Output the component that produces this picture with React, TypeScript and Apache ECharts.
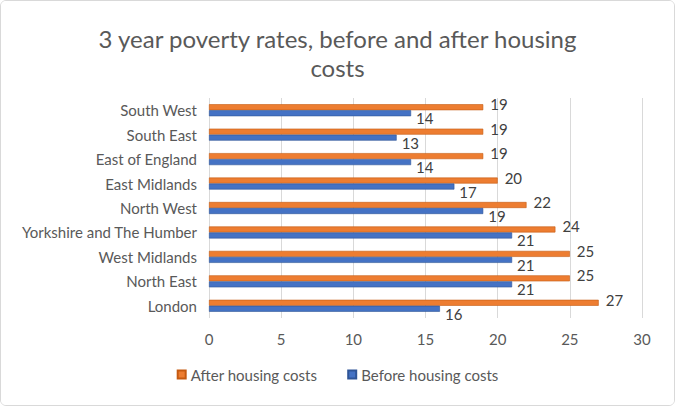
import React, { useEffect, useRef } from "react";
import * as echarts from "echarts";

const categories = [
  "London",
  "North East",
  "West Midlands",
  "Yorkshire and The Humber",
  "North West",
  "East Midlands",
  "East of England",
  "South East",
  "South West",
];
const afterHousing = [27, 25, 25, 24, 22, 20, 19, 19, 19];
const beforeHousing = [16, 21, 21, 21, 19, 17, 14, 13, 14];
const xTicks = { min: 0, max: 30, interval: 5 };

const FONT = "Lato, 'Open Sans', sans-serif";

export default function App() {
  const ref = useRef<HTMLDivElement>(null);
  useEffect(() => {
    if (!ref.current) return;
    const chart = echarts.init(ref.current, undefined, { renderer: "svg" });
    chart.setOption({
      animation: false,
      backgroundColor: "#ffffff",
      title: {
        text: "3 year poverty rates, before and after housing\ncosts",
        left: "center",
        top: 18,
        textStyle: {
          fontFamily: FONT,
          fontSize: 24,
          fontWeight: "normal",
          color: "#595959",
          lineHeight: 29,
        },
      },
      legend: {
        bottom: 18,
        left: "center",
        itemWidth: 8,
        itemHeight: 8,
        itemGap: 30,
        icon: "rect",
        textStyle: { fontFamily: FONT, fontSize: 15, color: "#595959" },
        data: ["After housing costs", "Before housing costs"],
      },
      grid: { left: 208, right: 32, top: 97, bottom: 87 },
      xAxis: {
        type: "value",
        min: xTicks.min,
        max: xTicks.max,
        interval: xTicks.interval,
        axisLine: { show: false },
        axisTick: { show: false },
        axisLabel: { fontFamily: FONT, fontSize: 15, color: "#595959", margin: 13 },
        splitLine: { lineStyle: { color: "#d9d9d9" } },
      },
      yAxis: {
        type: "category",
        data: categories,
        axisLine: { show: false },
        axisTick: { show: false },
        axisLabel: { fontFamily: FONT, fontSize: 15, color: "#595959", margin: 12 },
      },
      series: [
        {
          name: "After housing costs",
          type: "bar",
          data: afterHousing,
          barWidth: 6,
          barGap: "0%",
          itemStyle: { color: "#ED7D31", borderColor: "#C55A11", borderWidth: 0.6 },
          label: {
            show: true,
            position: "right",
            offset: [2, -3],
            fontFamily: FONT,
            fontSize: 15,
            color: "#404040",
          },
        },
        {
          name: "Before housing costs",
          type: "bar",
          data: beforeHousing,
          barWidth: 6,
          barGap: "0%",
          itemStyle: { color: "#4472C4", borderColor: "#2F5597", borderWidth: 0.6 },
          label: {
            show: true,
            position: "right",
            offset: [0, 5],
            fontFamily: FONT,
            fontSize: 15,
            color: "#404040",
          },
        },
      ],
    });
    return () => chart.dispose();
  }, []);
  return (
    <div
      style={{
        position: "fixed",
        left: 0,
        top: 0,
        width: 675,
        height: 406,
        boxSizing: "border-box",
        border: "1px solid #d9d9d9",
        borderRadius: 6,
        overflow: "hidden",
        background: "#fff",
      }}
    >
      <div ref={ref} style={{ width: 673, height: 404 }} />
    </div>
  );
}
